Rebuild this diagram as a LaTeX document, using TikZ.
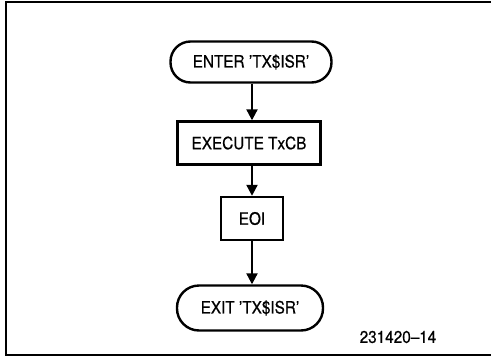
\documentclass[tikz,border=0pt]{standalone}
\usepackage{fontspec}
\setmainfont[FakeStretch=0.9, FakeBold=0.6]{TeX Gyre Heros}
\usetikzlibrary{arrows.meta, positioning}

\begin{document}
\begin{tikzpicture}[
		x=1pt, y=-1pt,
		term/.style={
			rectangle,
			rounded corners=20pt,
			draw=black,
			line width=2.4pt,
			minimum height=41pt,
			inner sep=0pt,
			font=\fontsize{17}{20}\selectfont
		},
		proc/.style={
			rectangle,
			draw=black,
			line width=2.4pt,
			minimum height=43pt,
			inner sep=0pt,
			font=\fontsize{17}{20}\selectfont
		},
		flow/.style={
			line width=2.2pt,
			-{Triangle[length=11pt, width=11pt]}
		}
		]
		
		\useasboundingbox (0,0) rectangle (491,357);
		
		% Frame
		\draw[line width=1.4pt] (491,2) -- (6,2) -- (6,355) -- (491,355);
		
		% Boxes
		\node[term, minimum width=161pt] (enter) at (251,62) {ENTER 'TX\$ISR'};
		\node[proc, minimum width=143pt] (exec) at (249,143) {EXECUTE TxCB};
		\node[proc, minimum width=62pt] (eoi) at (252,218.5) {EOI};
		\node[term, minimum width=146pt, minimum height=45pt, rounded corners=22pt] (exit) at (250,308) {EXIT 'TX\$ISR'};
		
		% Arrows
		\draw[flow] (enter.south -| eoi) -- (exec.north -| eoi);
		\draw[flow] (exec.south -| eoi) -- (eoi.north);
		\draw[flow] (eoi.south) -- (exit.north -| eoi);
		
		% Figure number
		\node[font=\fontsize{17}{20}\selectfont] (fig) at (398,337) {231420--14};
		
	\end{tikzpicture}
\end{document}
